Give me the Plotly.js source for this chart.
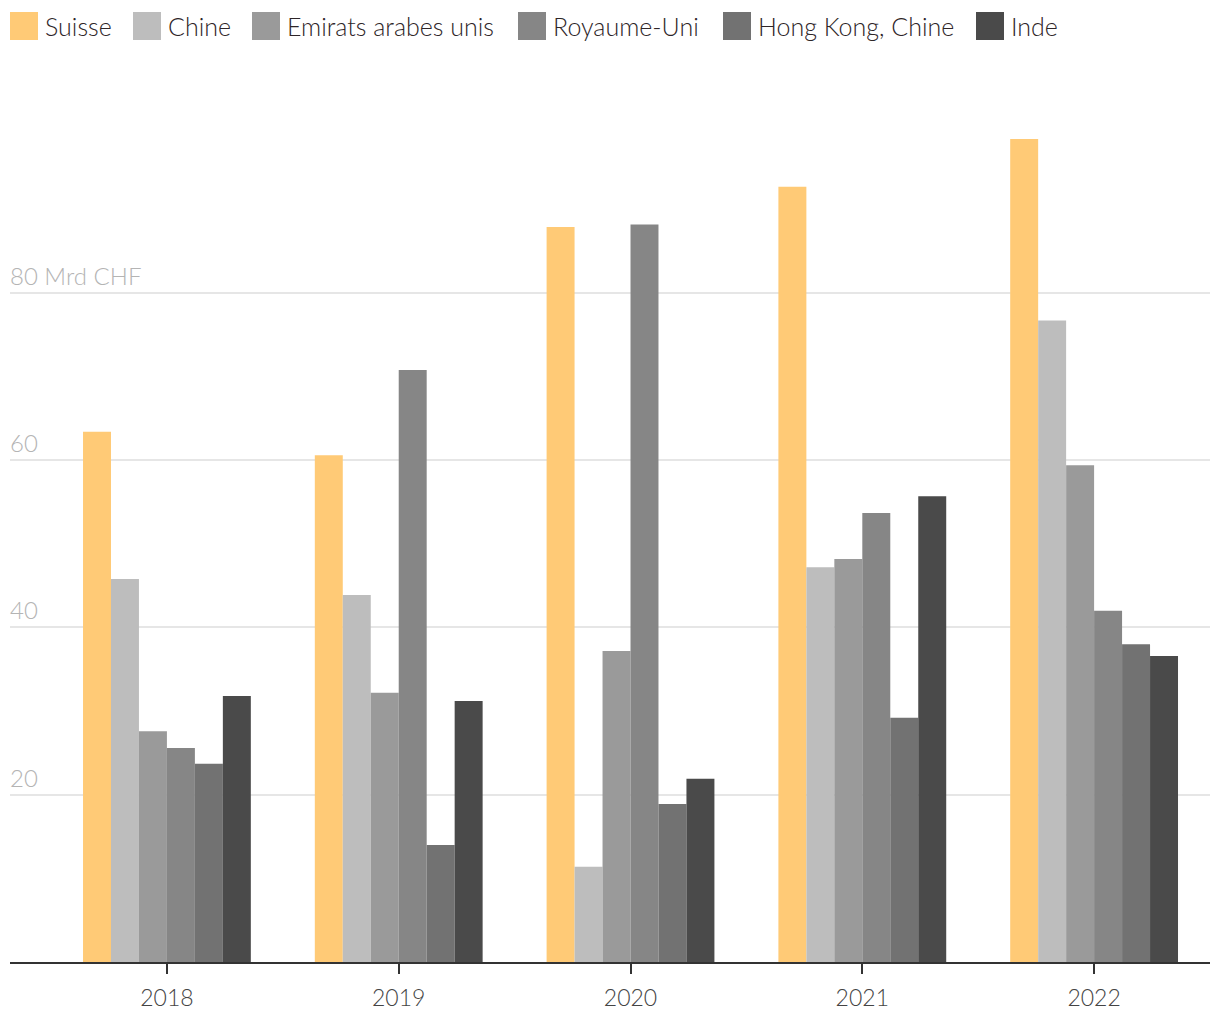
<!DOCTYPE html>
<html>
<head>
<meta charset="utf-8">
<script src="https://cdn.plot.ly/plotly-3.0.1.min.js"></script>
<style>html,body{margin:0;padding:0;background:#fff}#chart{width:1220px;height:1020px}</style>
</head>
<body>
<div id="chart"></div>
<script>
const years = ["2018", "2019", "2020", "2021", "2022"];
const seriesNames = ["Suisse", "Chine", "Emirats arabes unis", "Royaume-Uni", "Hong Kong, Chine", "Inde"];
const suisse = [63.4, 60.6, 87.9, 92.7, 98.4];
const chine = [45.8, 43.9, 11.4, 47.2, 76.7];
const emirats = [27.6, 32.2, 37.2, 48.2, 59.4];
const royaumeUni = [25.6, 70.8, 88.2, 53.7, 42.0];
const hongKong = [23.7, 14.0, 18.9, 29.2, 38.0];
const inde = [31.8, 31.2, 21.9, 55.7, 36.6];
const yTickVals = [20, 40, 60, 80];
const yTickText = ["20", "40", "60", "80 Mrd CHF"];

const colors = ["#ffca76", "#bdbdbd", "#9a9a9a", "#868686", "#727272", "#4a4a4a"];
const allValues = [suisse, chine, emirats, royaumeUni, hongKong, inde];
const FONT = "Lato, 'Open Sans', sans-serif";
const W = 1220, H = 1020;

const traces = allValues.map((vals, i) => ({
  type: "bar",
  name: seriesNames[i],
  x: years,
  y: vals,
  marker: {color: colors[i], line: {width: 0}},
  showlegend: false,
  hoverinfo: "x+y+name"
}));

const annotations = yTickVals.map((v, i) => ({
  xref: "paper", yref: "y",
  x: 0, y: v,
  xanchor: "left", yanchor: "bottom",
  xshift: -2, yshift: 1,
  text: yTickText[i],
  showarrow: false,
  font: {family: FONT, size: 24, color: "#b4b4b4", weight: 300}
}));

// custom legend (large square swatches), layout positions in pixels
const legendLeft = [10, 133, 252, 518, 723, 976];
const shapes = [];
seriesNames.forEach((name, i) => {
  const x0 = legendLeft[i];
  shapes.push({
    type: "rect", xref: "paper", yref: "paper", layer: "above",
    x0: (x0 - 10) / 1200, x1: (x0 + 28 - 10) / 1200,
    y0: 1 + (60 - 40) / 902, y1: 1 + (60 - 12) / 902,
    fillcolor: colors[i], line: {width: 0}
  });
  annotations.push({
    xref: "paper", yref: "paper",
    x: (x0 + 33 - 10) / 1200, y: 1 + (60 - 26) / 902,
    xanchor: "left", yanchor: "middle",
    text: name, showarrow: false,
    font: {family: FONT, size: 25, color: "#2e2528", weight: 300}
  });
});

const layout = {
  width: W, height: H,
  margin: {l: 10, r: 10, t: 60, b: 58},
  paper_bgcolor: "#fff", plot_bgcolor: "#fff",
  font: {family: FONT, color: "#333"},
  barmode: "group",
  bargap: 0.276,
  bargroupgap: 0,
  showlegend: false,
  xaxis: {
    type: "category",
    range: [-0.677, 4.5],
    showgrid: false,
    ticks: "outside", ticklen: 10, tickwidth: 2, tickcolor: "#333",
    showline: true, linecolor: "#333", linewidth: 2,
    tickfont: {family: FONT, size: 23, color: "#444", weight: 300},
    ticklabelstandoff: 4,
    fixedrange: true
  },
  yaxis: {
    range: [0, 107.86],
    tickvals: yTickVals,
    showticklabels: false,
    showgrid: true, gridcolor: "#e6e6e6", gridwidth: 2,
    zeroline: false,
    showline: false,
    fixedrange: true
  },
  shapes: shapes,
  annotations: annotations
};

Plotly.newPlot("chart", traces, layout, {displayModeBar: false, staticPlot: true});
</script>
</body>
</html>
